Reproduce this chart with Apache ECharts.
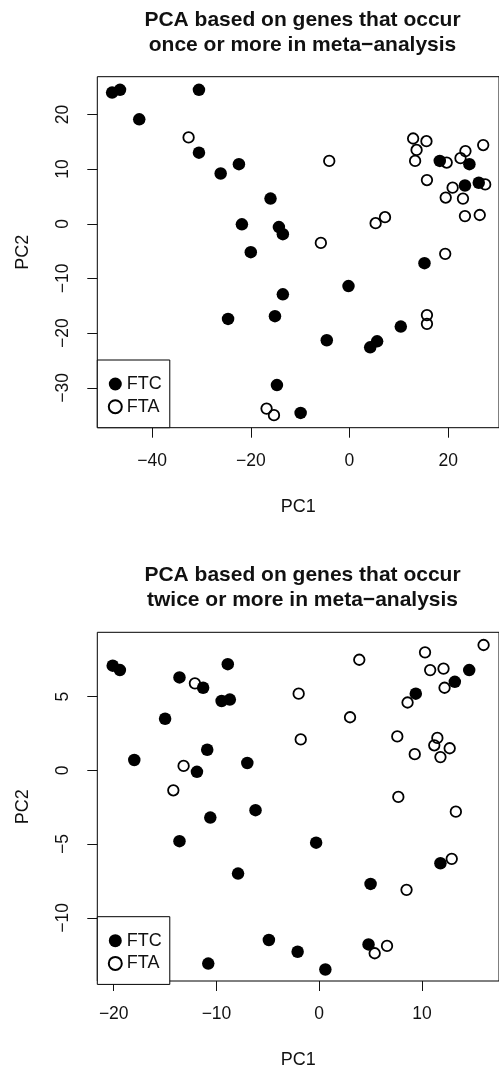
<!DOCTYPE html>
<html>
<head>
<meta charset="utf-8">
<script src="https://cdn.jsdelivr.net/npm/echarts@6/dist/echarts.min.js"></script>
<style>
  html, body { margin: 0; padding: 0; background: #fff; }
  #chart { width: 499px; height: 1070px; }
</style>
</head>
<body>
<div id="chart"></div>
<script>
// top panel: genes that occur once or more
var onceFTC = [
  [-48.1, 24.0], [-46.5, 24.5], [-30.5, 24.5], [-42.6, 19.1], [-30.5, 13.0],
  [-22.4, 10.9], [-26.1, 9.2], [-16.0, 4.6], [-21.8, -0.1], [-14.3, -0.6],
  [-13.5, -1.9], [-20.0, -5.2], [18.3, 11.5], [24.3, 10.9], [23.4, 7.0],
  [26.2, 7.5], [15.2, -7.2], [-13.5, -12.9], [-24.6, -17.4], [-15.1, -16.9],
  [-14.7, -29.5], [-9.9, -34.6], [-0.2, -11.4], [-4.6, -21.3], [4.2, -22.6],
  [5.6, -21.5], [10.4, -18.8]
];
var onceFTA = [
  [-32.6, 15.8], [-4.1, 11.5], [12.9, 15.6], [15.6, 15.1], [13.6, 13.5],
  [13.3, 11.5], [19.7, 11.2], [22.5, 12.0], [23.5, 13.3], [27.1, 14.4],
  [15.7, 8.0], [20.9, 6.6], [19.5, 4.8], [23.0, 4.6], [27.5, 7.2],
  [23.4, 1.4], [26.4, 1.6], [5.3, 0.1], [7.2, 1.2], [-5.8, -3.5],
  [19.4, -5.5], [15.7, -16.7], [15.7, -18.3], [-16.8, -33.8], [-15.3, -35.0]
];
var onceXTicks = [-40, -20, 0, 20];
var onceYTicks = [-30, -20, -10, 0, 10, 20];

// bottom panel: genes that occur twice or more
var twiceFTC = [
  [-20.1, 7.1], [-19.4, 6.8], [-8.9, 7.2], [-13.6, 6.3], [-11.3, 5.6],
  [-9.5, 4.7], [-8.7, 4.8], [-15.0, 3.5], [-18.0, 0.7], [-10.9, 1.4],
  [-7.0, 0.5], [-11.9, -0.1], [-6.2, -2.7], [-10.6, -3.2], [-13.6, -4.8],
  [-7.9, -7.0], [-4.9, -11.5], [-10.8, -13.1], [-0.3, -4.9], [5.0, -7.7],
  [11.8, -6.3], [-2.1, -12.3], [0.6, -13.5], [4.8, -11.8], [9.4, 5.2],
  [13.2, 6.0], [14.6, 6.8]
];
var twiceFTA = [
  [-12.1, 5.9], [-13.2, 0.3], [-14.2, -1.35], [3.9, 7.5], [10.3, 8.0],
  [16.0, 8.5], [10.8, 6.8], [12.1, 6.9], [12.2, 5.6], [8.6, 4.6],
  [-2.0, 5.2], [3.0, 3.6], [-1.8, 2.1], [7.6, 2.3], [11.5, 2.2],
  [11.2, 1.7], [12.7, 1.5], [11.8, 0.9], [9.3, 1.1], [7.7, -1.8],
  [13.3, -2.8], [12.9, -6.0], [8.5, -8.1], [6.6, -11.9], [5.4, -12.4]
];
var twiceXTicks = [-20, -10, 0, 10];
var twiceYTicks = [-10, -5, 0, 5];

var titles = [
  'PCA based on genes that occur\nonce or more in meta\u2212analysis',
  'PCA based on genes that occur\ntwice or more in meta\u2212analysis'
];

var FONT = '"Liberation Sans", Arial, sans-serif';
var INK = '#111';

function minus(v) {
  return String(v).replace('-', '\u2212');
}

function xAxisFor(idx, min, max, ticks) {
  return {
    type: 'value', gridIndex: idx, min: min, max: max,
    name: 'PC1', nameLocation: 'middle', nameGap: 70,
    nameTextStyle: { fontFamily: FONT, fontSize: 18, color: INK },
    axisLine: { show: false, onZero: false },
    axisTick: { show: true, inside: false, length: 10, customValues: ticks,
      lineStyle: { color: INK, width: 1 } },
    axisLabel: { customValues: ticks, formatter: minus, margin: 24,
      fontFamily: FONT, fontSize: 17.5, color: INK },
    splitLine: { show: false }
  };
}

function yAxisFor(idx, min, max, ticks) {
  return {
    type: 'value', gridIndex: idx, min: min, max: max,
    name: 'PC2', nameLocation: 'middle', nameGap: 65,
    nameTextStyle: { fontFamily: FONT, fontSize: 18, color: INK },
    axisLine: { show: false, onZero: false },
    axisTick: { show: true, inside: false, length: 10, customValues: ticks,
      lineStyle: { color: INK, width: 1 } },
    axisLabel: { customValues: ticks, formatter: minus, rotate: 90, margin: 25,
      fontFamily: FONT, fontSize: 17.5, color: INK },
    splitLine: { show: false }
  };
}

var filled = { color: '#000', opacity: 1 };
var hollow = { color: 'transparent', borderColor: '#000', borderWidth: 1.8, opacity: 1 };

function legendAt(top) {
  return {
    orient: 'vertical', left: 97.3, top: top,
    data: ['FTC', 'FTA'], icon: 'circle',
    itemWidth: 13, itemHeight: 13, itemGap: 4.7, itemTextGap: 9.9,
    padding: [15, 8, 12, 10.5],
    borderColor: '#000', borderWidth: 1, backgroundColor: '#fff',
    selectedMode: false,
    textStyle: { fontFamily: FONT, fontSize: 18, color: INK }
  };
}

var chart = echarts.init(document.getElementById('chart'));

var option = {
  animation: false,
  backgroundColor: '#fff',
  graphic: [
    { type: 'text', x: 302.5, y: 33,
      style: { text: titles[0], textAlign: 'center', textVerticalAlign: 'middle',
        font: 'bold 21px ' + FONT, lineHeight: 25, fill: INK } },
    { type: 'text', x: 302.5, y: 588,
      style: { text: titles[1], textAlign: 'center', textVerticalAlign: 'middle',
        font: 'bold 21px ' + FONT, lineHeight: 25, fill: INK } }
  ],
  grid: [
    { left: 97.3, right: -8.7, top: 76.7, height: 351, show: true,
      borderColor: '#000', borderWidth: 1, backgroundColor: 'transparent' },
    { left: 97.3, right: -8.7, top: 632.3, height: 349.4, show: true,
      borderColor: '#000', borderWidth: 1, backgroundColor: 'transparent' }
  ],
  xAxis: [
    xAxisFor(0, -51.1, 30.3, onceXTicks),
    xAxisFor(1, -21.6, 17.5, twiceXTicks)
  ],
  yAxis: [
    yAxisFor(0, -37.3, 26.9, onceYTicks),
    yAxisFor(1, -14.28, 9.36, twiceYTicks)
  ],
  legend: [legendAt(360), legendAt(916.7)],
  series: [
    { name: 'FTC', type: 'scatter', xAxisIndex: 0, yAxisIndex: 0,
      symbol: 'circle', symbolSize: 12.5, itemStyle: filled, data: onceFTC },
    { name: 'FTA', type: 'scatter', xAxisIndex: 0, yAxisIndex: 0,
      symbol: 'circle', symbolSize: 10.5, itemStyle: hollow, data: onceFTA },
    { name: 'FTC', type: 'scatter', xAxisIndex: 1, yAxisIndex: 1,
      symbol: 'circle', symbolSize: 12.5, itemStyle: filled, data: twiceFTC },
    { name: 'FTA', type: 'scatter', xAxisIndex: 1, yAxisIndex: 1,
      symbol: 'circle', symbolSize: 10.5, itemStyle: hollow, data: twiceFTA }
  ]
};

chart.setOption(option);
</script>
</body>
</html>
